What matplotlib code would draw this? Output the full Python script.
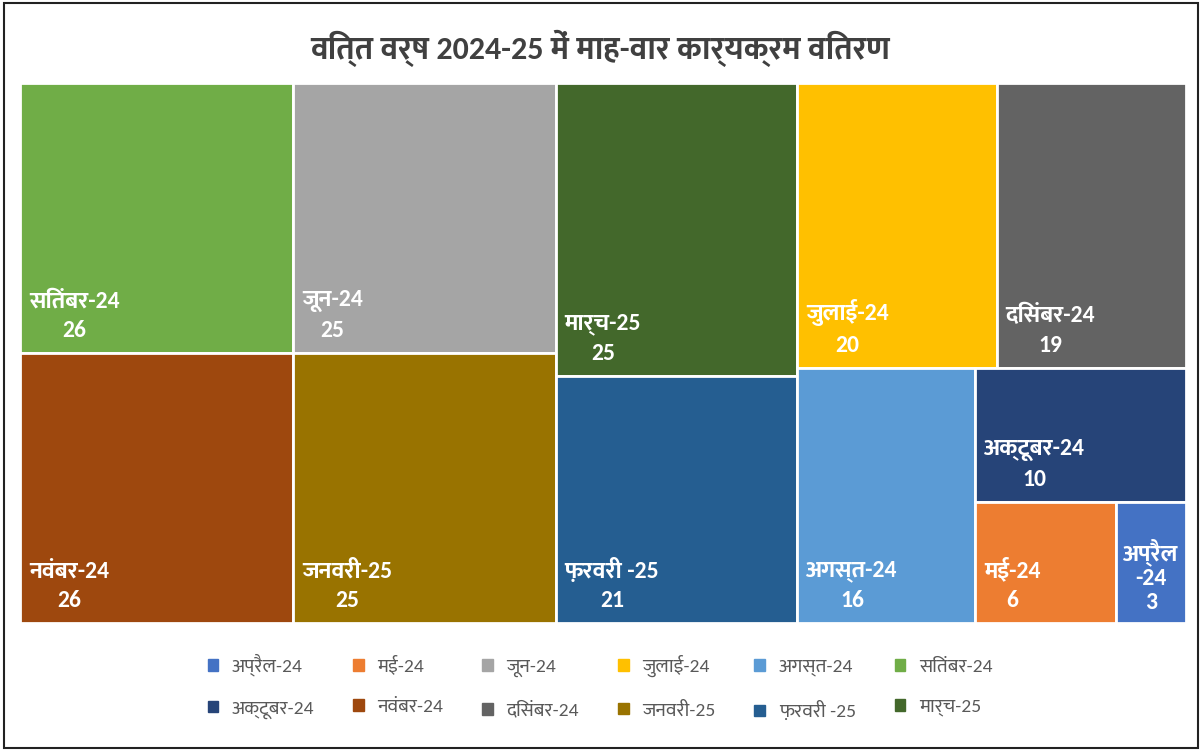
import matplotlib
matplotlib.use("Agg")
from matplotlib import pyplot as plt
from matplotlib.patches import Rectangle
import warnings
import logging

logging.getLogger('matplotlib.font_manager').setLevel(logging.ERROR)
warnings.filterwarnings("ignore")

FONTS = ['Carlito', 'Ek Mukta', 'Noto Sans Devanagari', 'DejaVu Sans']
plt.rcParams['font.family'] = FONTS

title = 'वित्त वर्ष 2024-25 में माह-वार कार्यक्रम वितरण'

months = ['अप्रैल-24', 'मई-24', 'जून-24', 'जुलाई-24', 'अगस्त-24', 'सितंबर-24',
          'अक्टूबर-24', 'नवंबर-24', 'दिसंबर-24', 'जनवरी-25', 'फ़रवरी -25', 'मार्च-25']
counts = [3, 6, 25, 20, 16, 26, 10, 26, 19, 25, 21, 25]
colors = ['#4472C4', '#ED7D31', '#A5A5A5', '#FFC000', '#5B9BD5', '#70AD47',
          '#264478', '#9E480E', '#636363', '#997300', '#255E91', '#43682B']


def worst(row, side):
    s = sum(row)
    return max(max(side * side * r / (s * s), s * s / (side * side * r)) for r in row)


def squarify(areas, x, y, w, h):
    '''Squarified treemap: returns (x, y, w, h) for each area, in order'''
    rects = []
    areas = list(areas)
    while areas:
        side = min(w, h)
        row = [areas.pop(0)]
        while areas and worst(row + [areas[0]], side) <= worst(row, side):
            row.append(areas.pop(0))
        s = sum(row)
        if w >= h:
            # lay the row out as a column on the left
            cw = s / h
            yy = y
            for r in row:
                rects.append((x, yy, cw, r / cw))
                yy += r / cw
            x += cw
            w -= cw
        else:
            # lay the row out across the top
            rh = s / w
            xx = x
            for r in row:
                rects.append((xx, y, r / rh, rh))
                xx += r / rh
            y += rh
            h -= rh
    return rects


W, H = 1166.0, 540.0
order = sorted(range(len(counts)), key=lambda i: -counts[i])
total = sum(counts)
areas = [counts[i] * W * H / total for i in order]
boxes = squarify(areas, 0, 0, W, H)

fig = plt.figure(figsize=(12, 7.51), dpi=100)
ax = fig.add_axes([20 / 1200, 1 - 623 / 751, W / 1200, H / 751])
ax.set_xlim(0, W)
ax.set_ylim(H, 0)
ax.axis('off')

for i, (x, y, w, h) in zip(order, boxes):
    ax.add_patch(Rectangle((x, y), w, h, facecolor=colors[i],
                           edgecolor='white', lw=2))
    name = months[i]
    if w < 100:
        # narrow tile: wrap the name at the dash and centre it
        txt = name.replace('-', '\n-') + '\n' + str(counts[i])
        ax.text(x + w / 2, y + h - 10, txt, ha='center', va='bottom',
                ma='center', color='white', fontsize=17, fontweight='bold',
                linespacing=1.15)
    else:
        ax.text(x + 9, y + h - 12, name + '\n' + str(counts[i]),
                ha='left', va='bottom', ma='center', color='white',
                fontsize=17, fontweight='bold', linespacing=1.5)

fig.text(0.5, 1 - 48 / 751, title, ha='center', va='center',
         fontsize=23, fontweight='bold', color='#404040')

# legend: two rows of six, filled row by row
idx = [r * 6 + c for c in range(6) for r in range(2)]
handles = [Rectangle((0, 0), 1, 1, color=colors[k]) for k in idx]
fig.legend(handles, [months[k] for k in idx], loc='center',
           bbox_to_anchor=(0.5, 1 - 687 / 751),
           ncol=6, frameon=False, fontsize=14, labelcolor='#595959',
           handlelength=0.55, handleheight=0.55, handletextpad=0.7,
           columnspacing=2.0, labelspacing=1.25)

fig.patches.append(Rectangle((4 / 1200, 3 / 751), 1194 / 1200, 745 / 751,
                             transform=fig.transFigure, fill=False,
                             edgecolor='#222222', lw=1.5))

fig.savefig('out.png', dpi=100)
